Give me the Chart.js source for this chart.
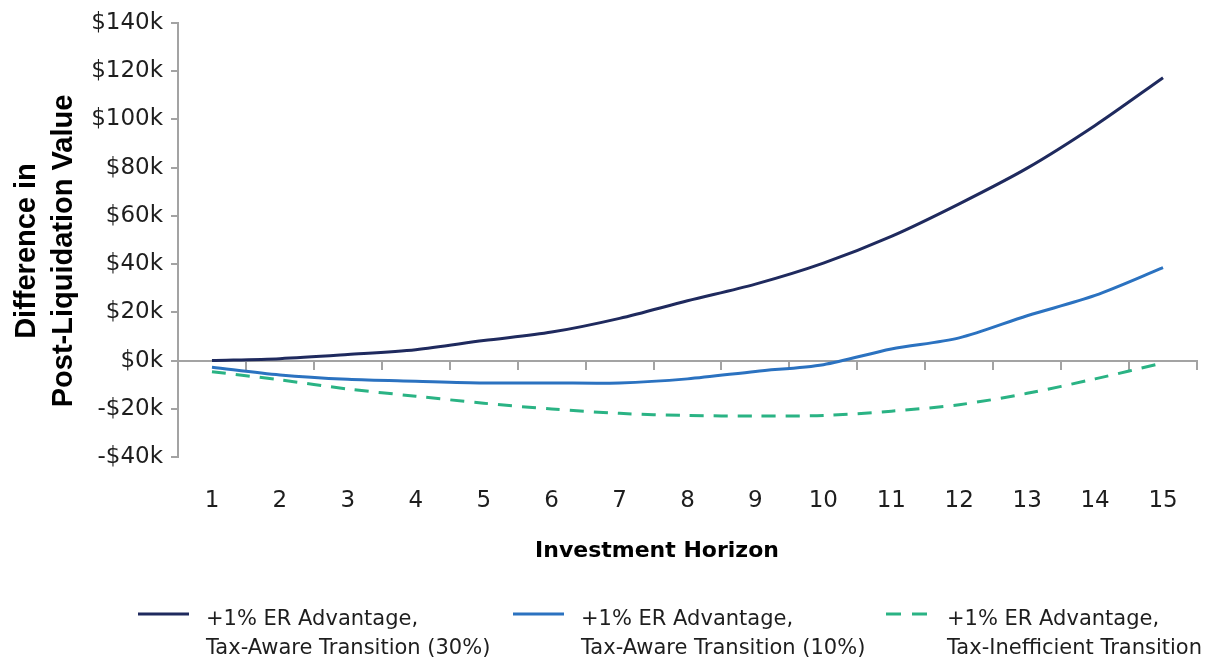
<!DOCTYPE html>
<html>
<head>
<meta charset="utf-8">
<script src="https://cdn.jsdelivr.net/npm/chart.js@4/dist/chart.umd.min.js"></script>
<style>
  html, body { margin: 0; padding: 0; background: #ffffff; }
  #wrap { position: relative; width: 1209px; height: 657px; }
</style>
</head>
<body>
<div id="wrap"><canvas id="c"></canvas></div>
<script>
// ---- data ----
const horizons = ['1','2','3','4','5','6','7','8','9','10','11','12','13','14','15'];
const taxAware30 = [0, 800, 2500, 4500, 8300, 11800, 17500, 24800, 31700, 40400, 51500, 65000, 79800, 97500, 117300];
const taxAware10 = [-2800, -6000, -7800, -8600, -9300, -9300, -9300, -7600, -4500, -1700, 4800, 9400, 18600, 27000, 38500];
const taxInefficient = [-4600, -8000, -11800, -14800, -17700, -20100, -21900, -22800, -23000, -22800, -21000, -18300, -13600, -7600, -1000];
const seriesNames = [
  ['+1% ER Advantage,', 'Tax-Aware Transition (30%)'],
  ['+1% ER Advantage,', 'Tax-Aware Transition (10%)'],
  ['+1% ER Advantage,', 'Tax-Inefficient Transition']
];
const yTicks = [-40000, -20000, 0, 20000, 40000, 60000, 80000, 100000, 120000, 140000];
const xTitle = 'Investment Horizon';
const yTitle = ['Difference in', 'Post-Liquidation Value'];

// ---- styles ----
const AXIS = '#a3a3a3';
const TXT = '#1e1e1e';
const NAVY = '#1f2a5e';
const BLUE = '#2b72c0';
const GREEN = '#2ab384';

function fmtK(v) {
  const k = Math.abs(v) / 1000;
  return (v < 0 ? '-$' : '$') + k + 'k';
}

const titlesPlugin = {
  id: 'titles',
  afterDraw(chart) {
    const ctx = chart.ctx;
    ctx.save();
    // x axis title
    ctx.fillStyle = '#000';
    ctx.font = 'bold 22px "DejaVu Sans"';
    ctx.textAlign = 'center';
    ctx.textBaseline = 'alphabetic';
    ctx.fillText(xTitle, 657, 557);
    // y axis title (two rotated lines)
    ctx.font = 'bold 29px "Liberation Sans"';
    const baselines = [35, 72];
    yTitle.forEach((t, i) => {
      ctx.save();
      ctx.translate(baselines[i], 251);
      ctx.rotate(-Math.PI / 2);
      ctx.fillText(t, 0, 0);
      ctx.restore();
    });
    ctx.restore();
  }
};

const legendPlugin = {
  id: 'customLegend',
  afterDraw(chart) {
    const ctx = chart.ctx;
    ctx.save();
    ctx.font = '21px "DejaVu Sans"';
    ctx.fillStyle = TXT;
    ctx.textAlign = 'left';
    ctx.textBaseline = 'alphabetic';
    const starts = [138, 513, 886];
    const sampleY = 614;
    const base1 = 625, base2 = 654;
    chart.data.datasets.forEach((ds, i) => {
      const x = starts[i];
      const lines = ds.label;
      ctx.save();
      ctx.strokeStyle = ds.borderColor;
      ctx.lineWidth = ds.borderWidth;
      ctx.setLineDash(ds.borderDash ? [15, 11] : []);
      ctx.beginPath();
      ctx.moveTo(x, sampleY);
      ctx.lineTo(x + 51, sampleY);
      ctx.stroke();
      ctx.restore();
      const tx = ds.borderDash ? x + 61 : x + 68;
      ctx.fillText(lines[0], tx, base1);
      ctx.fillText(lines[1], tx, base2);
    });
    ctx.restore();
  }
};

new Chart(document.getElementById('c'), {
  type: 'line',
  data: {
    labels: horizons,
    datasets: [
      { label: seriesNames[0], data: taxAware30, borderColor: NAVY, borderWidth: 3, pointRadius: 0, tension: 0.3, fill: false },
      { label: seriesNames[1], data: taxAware10, borderColor: BLUE, borderWidth: 3, pointRadius: 0, tension: 0.3, fill: false },
      { label: seriesNames[2], data: taxInefficient, borderColor: GREEN, borderWidth: 3, borderDash: [14, 10], pointRadius: 0, tension: 0.3, fill: false }
    ]
  },
  options: {
    responsive: true,
    maintainAspectRatio: false,
    animation: false,
    layout: { padding: { top: 23, right: 12, bottom: 0, left: 0 } },
    plugins: { legend: { display: false }, tooltip: { enabled: false } },
    scales: {
      x: {
        type: 'category',
        position: 'bottom',
        offset: true,
        grid: { display: false, drawTicks: false },
        border: { display: false },
        ticks: { color: TXT, font: { family: 'DejaVu Sans', size: 23 }, padding: 30, maxRotation: 0, autoSkip: false },
        title: { display: false },
        afterFit(s) { s.height = 200; }
      },
      x2: {
        type: 'category',
        position: { y: 0 },
        offset: true,
        grid: { display: true, offset: true, drawOnChartArea: false, drawTicks: true, tickLength: 8, color: AXIS, tickColor: AXIS, lineWidth: 2, tickWidth: 2 },
        border: { display: true, color: AXIS, width: 2 },
        ticks: { display: false }
      },
      y: {
        min: -40000,
        max: 140000,
        afterBuildTicks(s) { s.ticks = yTicks.map(v => ({ value: v })); },
        grid: { display: true, drawOnChartArea: false, drawTicks: true, tickLength: 7, color: AXIS, tickColor: AXIS, lineWidth: 2, tickWidth: 2 },
        border: { display: true, color: AXIS, width: 2 },
        ticks: { color: TXT, font: { family: 'DejaVu Sans', size: 23 }, padding: 8, callback: (v) => fmtK(v) },
        title: { display: false },
        afterFit(s) { s.width = 178; }
      }
    }
  },
  plugins: [titlesPlugin, legendPlugin]
});
</script>
</body>
</html>
